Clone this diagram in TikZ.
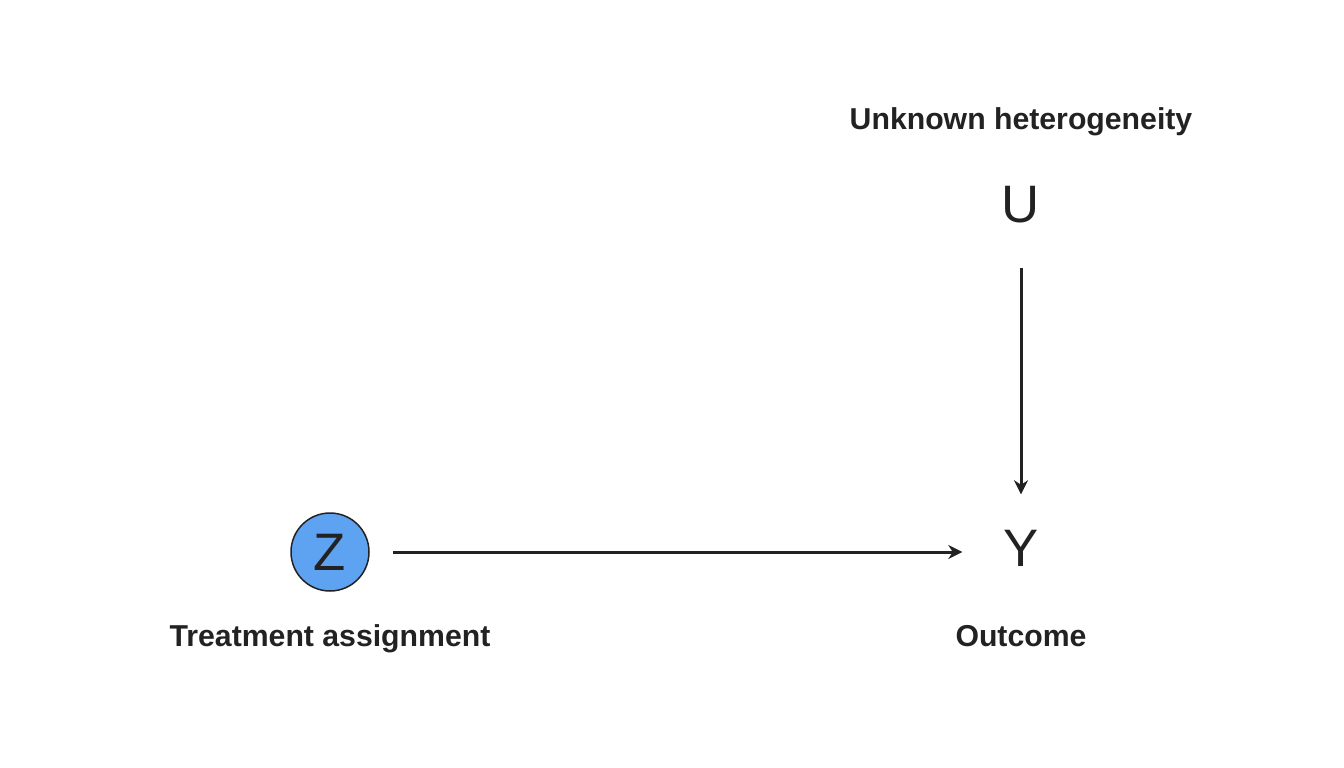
\documentclass[tikz,border=0pt]{standalone}
\usepackage{xcolor}
\usepackage{fontspec}
\setmainfont{Liberation Sans}
\usepackage{tikz}
\usetikzlibrary{arrows.meta}

\definecolor{ink}{HTML}{222222}
\definecolor{zblue}{HTML}{5EA2F2}

\begin{document}
\begin{tikzpicture}[thick,ink,
    var/.style={circle,minimum size=1.56cm,inner sep=0pt,font=\fontsize{30}{30}\selectfont},
    lbl/.style={anchor=base,font=\bfseries\fontsize{17.2}{17.2}\selectfont},
    edge/.style={line width=1.7pt,-{Stealth[length=8pt,width=8pt]}}]
    \useasboundingbox (0,0) rectangle (26.88,-15.36);
    \node[var,draw=ink,fill=zblue,line width=0.85pt] (Z) at (6.6,-11.04) {Z};
    \node[var] (Y) at (20.42,-10.96) {Y};
    \node[var] (U) at (20.42,-4.1) {U};
    \node[lbl] (zlbl) at (6.6,-12.92) {Treatment assignment};
    \node[lbl] (ylbl) at (20.42,-12.92) {Outcome};
    \node[lbl] (ulbl) at (20.42,-2.58) {Unknown heterogeneity};
    \draw[edge,shorten <=0.46cm,shorten >=0.38cm] (Z) -- (Z-|Y.west);
    \draw[edge,shorten <=0.46cm,shorten >=0.28cm] (U) -- (Y);
\end{tikzpicture}
\end{document}
